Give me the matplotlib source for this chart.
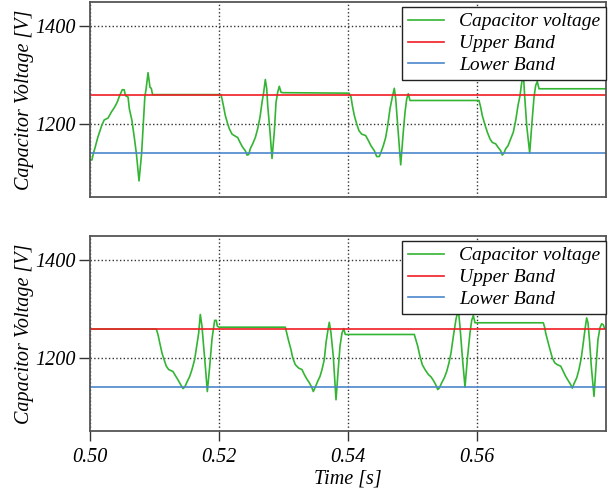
import matplotlib
matplotlib.use("Agg")
import matplotlib.pyplot as plt

# Bandas de histéresis
upper_band = 1260
lower_band = 1140

# Tensión del condensador - gráfica superior
t_top = [0.5000, 0.5003, 0.5005, 0.5008, 0.5012, 0.5018, 0.5022, 0.5028, 0.5033, 0.5038,
         0.5042, 0.5046, 0.5050, 0.5053, 0.5055, 0.5059, 0.5061, 0.5065, 0.5069, 0.5072,
         0.5076, 0.5080, 0.5085, 0.5087, 0.5090, 0.5093, 0.5095, 0.5097,
         0.5200, 0.5203, 0.52047, 0.52067, 0.52098, 0.52135, 0.5216, 0.52202, 0.52237, 0.5229,
         0.52326, 0.52367, 0.52408, 0.52434, 0.5246, 0.52485, 0.52522, 0.52563, 0.526, 0.52636,
         0.52667, 0.52693, 0.52718, 0.5274, 0.52755, 0.52791, 0.52822, 0.52857, 0.52884, 0.5291,
         0.52935, 0.52961, 0.52985,
         0.54016, 0.54047, 0.54067, 0.54098, 0.54135, 0.5417, 0.54212, 0.54274, 0.54315, 0.54357,
         0.54408, 0.54445, 0.54485, 0.54512, 0.54547, 0.54584, 0.54615, 0.54651, 0.54687, 0.54718,
         0.5474, 0.54771, 0.54817, 0.54857, 0.54884, 0.5491, 0.54935, 0.54961,
         0.56031, 0.56057, 0.56082, 0.56119, 0.5616, 0.56202, 0.56237, 0.5629, 0.56326, 0.56367,
         0.56392, 0.56418, 0.56445, 0.5648, 0.56522, 0.56563, 0.566, 0.56636, 0.56667, 0.56687,
         0.56718, 0.5674, 0.56771, 0.56817, 0.56848, 0.56884, 0.5691, 0.56935, 0.56961, 0.5800]
v_top = [1126, 1126, 1138, 1152, 1172, 1196, 1208, 1212, 1224, 1234,
         1244, 1258, 1270, 1270, 1258, 1255, 1231, 1207, 1169, 1138,
         1083, 1139, 1255, 1272, 1305, 1275, 1273, 1260,
         1260, 1260, 1251, 1238, 1217, 1200, 1190, 1179, 1176, 1172,
         1162, 1152, 1145, 1136, 1137, 1149, 1159, 1172, 1190, 1214,
         1244, 1265, 1291, 1272, 1238, 1183, 1129, 1183, 1244, 1265,
         1277, 1265, 1264,
         1263, 1255, 1238, 1217, 1200, 1186, 1179, 1176, 1166, 1155,
         1145, 1133, 1133, 1142, 1155, 1172, 1196, 1231, 1255, 1273,
         1251, 1196, 1116, 1183, 1224, 1251, 1262, 1248,
         1248, 1234, 1217, 1200, 1183, 1169, 1162, 1159, 1152, 1145,
         1136, 1140, 1149, 1155, 1169, 1183, 1207, 1238, 1258, 1279,
         1305, 1255, 1196, 1140, 1196, 1255, 1279, 1287, 1272, 1272]

# Tensión del condensador - gráfica inferior
t_bot = [0.5000, 0.51028, 0.51054, 0.51081, 0.51116, 0.51147, 0.51183, 0.5122, 0.51287, 0.51322,
         0.51364, 0.51406, 0.51442, 0.51468, 0.51509, 0.51546, 0.51581, 0.51623, 0.51654, 0.51685,
         0.5171, 0.51736, 0.51757, 0.51788, 0.51819, 0.51856, 0.51891, 0.51912, 0.51933, 0.51958,
         0.51974, 0.5200,
         0.53028, 0.5305, 0.53081, 0.53116, 0.53143, 0.53183, 0.53236, 0.53287, 0.53322, 0.5336,
         0.534, 0.53437, 0.53462, 0.53493, 0.5353, 0.53566, 0.53597, 0.53633, 0.53659, 0.5369,
         0.5371, 0.53736, 0.53772, 0.53814, 0.5385, 0.53876, 0.53907, 0.53933, 0.53958,
         0.55028, 0.5505, 0.55081, 0.55116, 0.55152, 0.55194, 0.55245, 0.55287, 0.55322, 0.5536,
         0.55391, 0.55415, 0.55453, 0.55493, 0.5553, 0.55566, 0.55597, 0.55633, 0.55674, 0.5571,
         0.55736, 0.55772, 0.55814, 0.5585, 0.55891, 0.55918, 0.55943, 0.55969,
         0.57028, 0.5705, 0.57065, 0.5709, 0.57132, 0.57168, 0.57205, 0.57245, 0.57298, 0.57338,
         0.57375, 0.57416, 0.57453, 0.57478, 0.57504, 0.57546, 0.57581, 0.57617, 0.57648, 0.57674,
         0.577, 0.57721, 0.57747, 0.57772, 0.57814, 0.57845, 0.57876, 0.57907, 0.57933, 0.57957,
         0.57979, 0.5800]
v_bot = [1259, 1259, 1248, 1231, 1210, 1197, 1183, 1176, 1172, 1164,
         1155, 1145, 1137, 1140, 1152, 1162, 1176, 1197, 1224, 1251,
         1289, 1265, 1231, 1183, 1131, 1183, 1238, 1258, 1277, 1277,
         1265, 1263,
         1263, 1251, 1234, 1217, 1200, 1186, 1179, 1176, 1166, 1157,
         1149, 1140, 1131, 1140, 1152, 1162, 1176, 1197, 1231, 1258,
         1273, 1251, 1203, 1114, 1179, 1224, 1251, 1260, 1248,
         1248, 1238, 1224, 1203, 1186, 1176, 1166, 1161, 1154, 1145,
         1135, 1138, 1149, 1159, 1172, 1190, 1210, 1244, 1279, 1300,
         1265, 1203, 1140, 1197, 1251, 1277, 1287, 1272,
         1272, 1262, 1251, 1238, 1217, 1200, 1190, 1186, 1183, 1172,
         1162, 1153, 1145, 1138, 1147, 1159, 1176, 1200, 1231, 1258,
         1282, 1272, 1231, 1183, 1121, 1183, 1238, 1262, 1270, 1268,
         1260, 1260]

x_ticks = [0.50, 0.52, 0.54, 0.56]
x_labels = ['0.50', '0.52', '0.54', '0.56']
y_ticks = [1200, 1400]

# Fuente tipo Times en cursiva
plt.rcParams['font.family'] = ['Liberation Serif', 'DejaVu Serif']
plt.rcParams['font.style'] = 'italic'

fig = plt.figure(figsize=(6.10, 4.91), dpi=100)
ax1 = fig.add_axes([90 / 610, 1 - 197 / 491, 516 / 610, 195 / 491])
ax2 = fig.add_axes([90 / 610, 1 - 431 / 491, 516 / 610, 195 / 491])

green = '#33b533'
red = '#f01c24'
blue = '#4d86cc'

for ax, t, v in [(ax1, t_top, v_top), (ax2, t_bot, v_bot)]:
    ax.plot(t, v, color=green, lw=1.2, label='Capacitor voltage')
    ax.axhline(upper_band, color=red, lw=1.2, label='Upper Band')
    ax.axhline(lower_band, color=blue, lw=1.2, label='Lower Band')

    ax.set_xlim(0.50, 0.58)
    ax.set_ylim(1050, 1450)
    ax.set_xticks(x_ticks)
    ax.set_yticks(y_ticks)
    ax.grid(True, color='#333333', linestyle=':', lw=1.0)
    ax.set_ylabel('Capacitor Voltage [V]', fontsize=14.5, labelpad=1)

    for s in ax.spines.values():
        s.set_color('#555555')
        s.set_linewidth(1.3)

    ax.tick_params(axis='y', direction='out', length=8, width=1.0, color='#333333',
                   labelsize=14.5, pad=2)

    leg = ax.legend(loc='upper right', bbox_to_anchor=(1.0, 1 - 5 / 195),
                    borderaxespad=0, fontsize=14, frameon=True, fancybox=False,
                    handlelength=1.9, handletextpad=0.75, labelspacing=0.22,
                    borderpad=0.3)
    leg.get_frame().set_edgecolor('#222222')
    leg.get_frame().set_linewidth(1.0)
    leg.get_frame().set_alpha(1.0)

ax1.tick_params(axis='x', length=0, labelbottom=False)
ax2.tick_params(axis='x', direction='out', length=7, width=1.0, color='#333333',
                labelsize=14.5, pad=5)
ax2.set_xticklabels(x_labels)
ax2.set_xlabel('Time [s]', fontsize=14.5, labelpad=2)

fig.savefig('out.png', dpi=100)
